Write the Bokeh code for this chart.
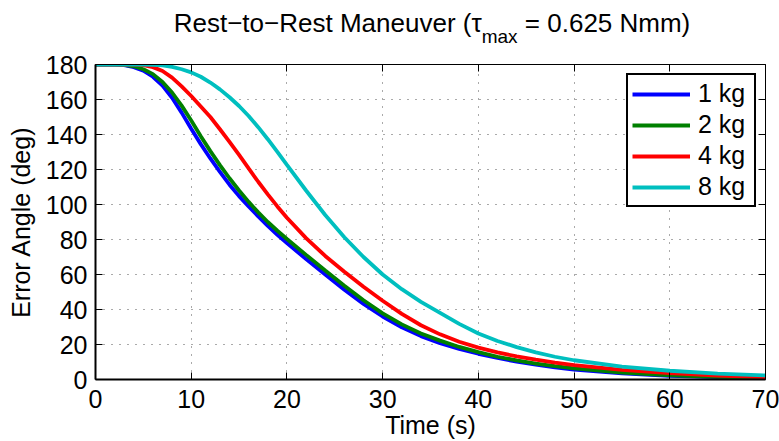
from bokeh.plotting import figure
from bokeh.models import Range1d, FixedTicker, LinearAxis, Legend, LegendItem, Div
from bokeh.layouts import column
from bokeh.embed import file_html
from bokeh.resources import INLINE

# ---------------- data ----------------
time_s = [0, 2, 3, 4, 5, 6, 7, 8, 9, 10, 11, 12, 13, 14, 15, 16, 17, 18, 19, 20,
          22, 24, 26, 28, 30, 32, 34, 36, 38, 40, 42, 44, 46, 48, 50, 55, 60, 65, 70]

err_1kg = [180, 180, 179.6, 178.5, 176.5, 173, 168, 161, 152.5, 143.3, 134.5, 126.3, 118.6,
           111.3, 104.8, 98.9, 93.2, 87.8, 82.7, 78, 68.8, 60, 51.3, 43.2, 36, 29.8, 24.8, 20.8,
           17.5, 14.7, 12.3, 10.2, 8.5, 7, 5.7, 3.5, 2.1, 1.3, 0.8]
err_2kg = [180, 180, 179.8, 179, 177.3, 174.5, 170, 164, 156.5, 148, 139, 130.5, 122.5,
           115, 108, 101.5, 95.5, 90, 85, 80.3, 71.2, 62.3, 53.6, 45.3, 37.8, 31.5, 26.3,
           22.2, 18.6, 15.6, 13, 10.9, 9.1, 7.6, 6.3, 3.9, 2.4, 1.5, 0.9]
err_4kg = [180, 180, 180, 179.9, 179.6, 178.5, 176.3, 172.5, 167.5, 162, 156, 150, 143,
           135.8, 128.3, 120.6, 113, 105.8, 98.9, 92.4, 80.8, 70.6, 61.6, 53, 45, 37.5, 31,
           25.8, 21.6, 18.2, 15.5, 13.2, 11.3, 9.6, 8.2, 5.5, 3.6, 2.2, 1.3]
err_8kg = [180, 180, 180, 180, 180, 179.8, 179.5, 178.6, 177.3, 175.5, 173, 169.7, 165.8,
           161.3, 156.3, 150.6, 144.2, 137.3, 130.1, 122.7, 108, 94, 81.3, 70, 60, 51.6,
           44.4, 38.1, 31.8, 26.3, 22, 18.5, 15.5, 13, 11, 7.4, 5, 3.4, 2.3]

series_labels = ["1 kg", "2 kg", "4 kg", "8 kg"]
series_colors = ["#0000FF", "#008000", "#FF0000", "#00BFBF"]

x_ticks = [0, 10, 20, 30, 40, 50, 60, 70]
y_ticks = [0, 20, 40, 60, 80, 100, 120, 140, 160, 180]

title_main = "Rest\u2212to\u2212Rest Maneuver (\u03c4"
title_sub = "max"
title_tail = "= 0.625 Nmm)"
x_label = "Time (s)"
y_label = "Error Angle (deg)"

# ---------------- layout ----------------
W, H = 779, 441
TITLE_H = 50
L, R, T, B = 95, 14, 64 - TITLE_H, 62
FONT = "Liberation Sans"

title_div = Div(
    text=('<div style="position:absolute; left:432px; top:10px; transform:translateX(-50%); '
          'white-space:nowrap; font-family:\'Liberation Sans\', Arial, sans-serif; '
          'font-size:26px; line-height:26px; color:#000;">'
          + title_main
          + '<span style="font-size:19px; position:relative; top:11px;">' + title_sub + '</span> '
          + title_tail + '</div>'),
    width=W, height=TITLE_H, margin=0,
    styles={"position": "relative", "overflow": "visible"})

p = figure(width=W, height=H - TITLE_H, output_backend="svg", toolbar_location=None,
           x_range=Range1d(0, 70), y_range=Range1d(0, 180),
           min_border_left=L, min_border_right=R, min_border_top=T, min_border_bottom=B)
p.outline_line_color = None
p.background_fill_color = "white"
p.border_fill_color = "white"

renderers = []
for ys, c in zip([err_1kg, err_2kg, err_4kg, err_8kg], series_colors):
    renderers.append(p.line(time_s, ys, line_color=c, line_width=3.8))

# axes
for ax, ticks in ((p.xaxis[0], x_ticks), (p.yaxis[0], y_ticks)):
    ax.ticker = FixedTicker(ticks=ticks)
    ax.axis_line_width = 2
    ax.axis_line_color = "black"
    ax.major_tick_in = 7
    ax.major_tick_out = 0
    ax.major_tick_line_color = "black"
    ax.minor_tick_line_color = None
    ax.major_label_text_font = FONT
    ax.major_label_text_font_size = "25px"
    ax.major_label_text_color = "black"
    ax.axis_label_text_font = FONT
    ax.axis_label_text_font_size = "25px"
    ax.axis_label_text_font_style = "normal"
    ax.axis_label_text_color = "black"
p.xaxis[0].major_label_standoff = 10
p.xaxis[0].axis_label = x_label
p.xaxis[0].axis_label_standoff = 0
p.yaxis[0].major_label_standoff = 8
p.yaxis[0].axis_label = y_label
p.yaxis[0].axis_label_standoff = 8

for loc, ticks in (("above", x_ticks), ("right", y_ticks)):
    ax = LinearAxis(ticker=FixedTicker(ticks=ticks), axis_line_width=1,
                    axis_line_color="black", major_tick_in=7, major_tick_out=0,
                    major_tick_line_color="black", minor_tick_line_color=None,
                    major_label_text_font_size="0px",
                    major_label_overrides={t: "" for t in ticks},
                    major_label_standoff=0)
    p.add_layout(ax, loc)

# grid
for g, ticks in ((p.xgrid[0], x_ticks), (p.ygrid[0], y_ticks)):
    g.ticker = FixedTicker(ticks=ticks)
    g.grid_line_color = "#555555"
    g.grid_line_dash = "1 7"
    g.grid_line_width = 1

# legend
legend = Legend(items=[LegendItem(label=lab, renderers=[r]) for lab, r in zip(series_labels, renderers)],
                location="top_right", margin=9, padding=4, spacing=2,
                glyph_width=58, glyph_height=20, label_standoff=8, label_width=52,
                label_text_font=FONT, label_text_font_size="25px", label_text_color="black",
                border_line_color="black", border_line_width=2, border_line_alpha=1,
                background_fill_color="white", background_fill_alpha=1)
p.add_layout(legend)

layout = column(title_div, p, spacing=0)
open("out.html", "w").write(file_html(layout, INLINE))
